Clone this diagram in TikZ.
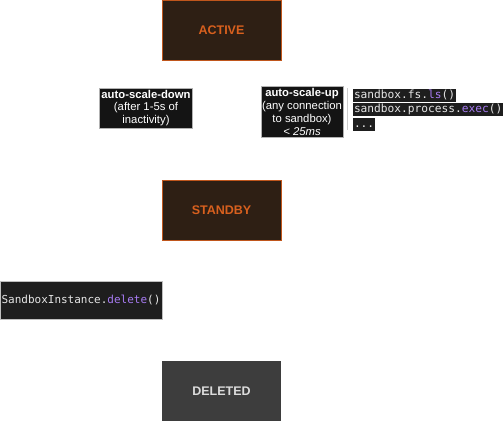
\documentclass[tikz,border=0pt]{standalone}
\usepackage{fontspec}
\setmainfont{Liberation Sans}
\setmonofont{DejaVu Sans Mono}
\definecolor{stfill}{HTML}{2E1F14}
\definecolor{stdraw}{HTML}{C0561C}
\definecolor{sttext}{HTML}{D8601E}
\definecolor{delfill}{HTML}{3D3D3D}
\definecolor{deltext}{HTML}{DCDCDC}
\definecolor{lblfill}{HTML}{141414}
\definecolor{codefill}{HTML}{1E1E1E}
\definecolor{codetext}{HTML}{E6E6E6}
\definecolor{codepurple}{HTML}{A77BF3}
\tikzset{
  statebox/.style={draw=stdraw, line width=1pt, fill=stfill, minimum width=119pt, minimum height=60pt, text=sttext, font=\fontsize{12.5}{14}\selectfont\bfseries},
  delbox/.style={fill=delfill, minimum width=119pt, minimum height=60pt, text=deltext, font=\fontsize{12.5}{14}\selectfont\bfseries},
  lbl/.style={fill=lblfill, draw=gray!60, line width=0.5pt, text=white, align=center, font=\fontsize{11.3}{12.8}\selectfont, inner sep=1pt},
  codeline/.style={fill=codefill, text=codetext, font=\ttfamily\fontsize{11.2}{13}\selectfont, inner sep=0.8pt, text height=8.8pt, text depth=2.6pt, anchor=west},
}
\begin{document}
\begin{tikzpicture}[x=1pt,y=-1pt]
\useasboundingbox (0,0) rectangle (504,421);
\node[statebox] (active) at (221.5,30) {ACTIVE};
\node[statebox] (standby) at (221.5,210) {STANDBY};
\node[delbox] (deleted) at (221.5,391) {DELETED};
\node[lbl, minimum width=93pt, minimum height=40pt] (down) at (146,108) {\textbf{auto-scale-down}\\(after 1-5s of\\inactivity)};
\node[lbl, minimum width=82pt, minimum height=51pt] (up) at (302,112) {\textbf{auto-scale-up}\\(any connection\\to sandbox)\\\textit{< 25ms}};
\draw[gray!40, line width=0.6pt] (347,88) coordinate (ctop) -- (347,130) coordinate (cbot);
\node[codeline] (c1) at (353,95) {sandbox.fs.\textcolor{codepurple}{ls}()};
\node[codeline] (c2) at (353,109.5) {sandbox.process.\textcolor{codepurple}{exec}()};
\node[codeline] (c3) at (353,124) {...};
\node[fill=codefill, draw=gray!50, line width=0.5pt, minimum width=162pt, minimum height=38pt, text=codetext, font=\ttfamily\fontsize{11}{13}\selectfont, inner sep=1pt] (del) at (81,300) {SandboxInstance.\textcolor{codepurple}{delete}()};
\end{tikzpicture}
\end{document}
